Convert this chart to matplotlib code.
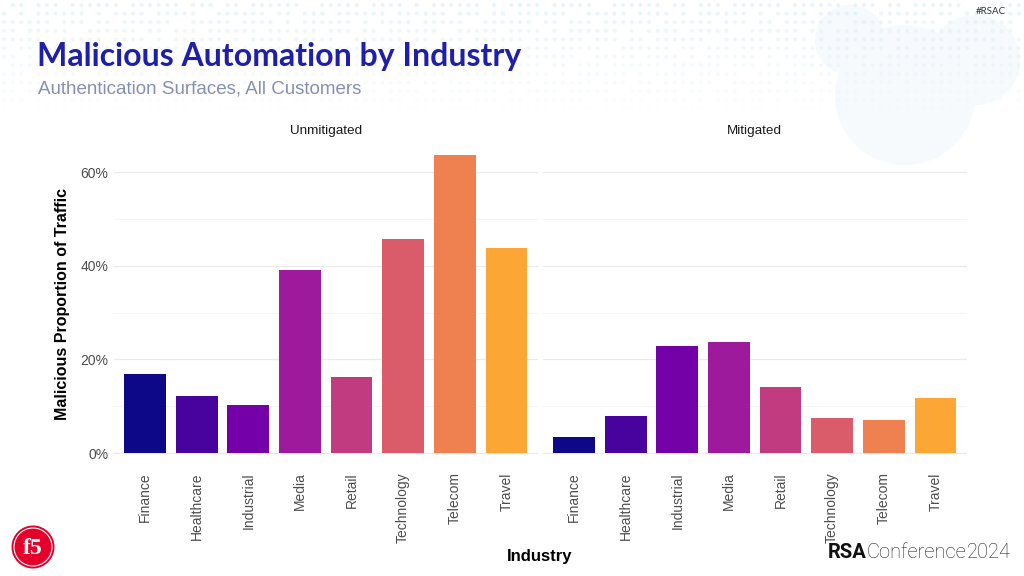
import matplotlib.pyplot as plt
import numpy as np
from matplotlib.patches import Circle
from matplotlib.ticker import FuncFormatter, FixedLocator

industries = ["Finance", "Healthcare", "Industrial", "Media", "Retail",
              "Technology", "Telecom", "Travel"]
unmitigated = [16.9, 12.2, 10.3, 39.2, 16.2, 45.8, 63.7, 43.9]
mitigated = [3.5, 8.0, 22.8, 23.7, 14.2, 7.5, 7.1, 11.8]
panels = ["Unmitigated", "Mitigated"]
colors = ["#0D0887", "#48039F", "#7401A8", "#9E1A9C", "#C03B80",
          "#DA5B69", "#EF8050", "#FCA636"]
major_ticks = [0, 20, 40, 60]
minor_ticks = [10, 30, 50]

W, H = 1024, 576
SANS = "Liberation Sans"
fig = plt.figure(figsize=(W / 100, H / 100), dpi=100)

# background layer in pixel coordinates
bg = fig.add_axes([0, 0, 1, 1], zorder=0)
bg.set_xlim(0, W)
bg.set_ylim(H, 0)
bg.axis("off")

# faint dotted banner like the slide template
for cx, cy, r in [(905, 95, 70), (975, 60, 45), (850, 40, 35)]:
    bg.add_patch(Circle((cx, cy), r, color="#F6FAFC", zorder=0, lw=0))
gx, gy = np.meshgrid(np.arange(4, W, 8.6), np.arange(5, 112, 8.6))
ii, jj = np.meshgrid(np.arange(gx.shape[1]), np.arange(gx.shape[0]))
keep = ((ii * 3 + jj * 5) % 7 != 0) & ((ii + jj * 2) % 11 != 3)
alpha = np.clip(1.0 - gy / 115.0, 0, 1) * 0.6
rgba = np.zeros((gx.size, 4))
rgba[:, :3] = (0.86, 0.93, 0.97)
rgba[:, 3] = alpha.ravel()
bg.scatter(gx.ravel()[keep.ravel()], gy.ravel()[keep.ravel()], s=9,
           c=rgba[keep.ravel()], linewidths=0, zorder=1)


def px_axes(x0, y0, x1, y1):
    return fig.add_axes([x0 / W, 1 - y1 / H, (x1 - x0) / W, (y1 - y0) / H], zorder=2)


axes = [px_axes(114, 140, 537.5, 468), px_axes(543, 140, 966.5, 468)]
x = np.arange(len(industries))
for ax, name, vals in zip(axes, panels, [unmitigated, mitigated]):
    ax.set_facecolor("none")
    ax.bar(x, vals, width=0.81, color=colors, zorder=3)
    ax.set_xlim(-0.6, len(industries) - 0.4)
    ax.set_ylim(-3.2, 66.9)
    ax.yaxis.set_major_locator(FixedLocator(major_ticks))
    ax.yaxis.set_minor_locator(FixedLocator(minor_ticks))
    ax.yaxis.set_major_formatter(FuncFormatter(lambda v, p: f"{v:.0f}%"))
    ax.grid(axis="y", which="major", color="#EAEAEA", lw=0.9, zorder=0)
    ax.grid(axis="y", which="minor", color="#F5F5F5", lw=0.7, zorder=0)
    ax.set_axisbelow(True)
    for s in ax.spines.values():
        s.set_visible(False)
    ax.set_xticks(x)
    ax.set_xticklabels(industries, rotation=90, fontsize=10, color="#4D4D4D",
                       family=SANS, va="top")
    ax.tick_params(axis="x", length=0, pad=3)
    ax.tick_params(axis="y", which="both", length=0, pad=4, labelsize=10,
                   labelcolor="#4D4D4D")
    for t in ax.get_yticklabels():
        t.set_family(SANS)
    ax.set_title(name, fontsize=9.7, family=SANS, color="#1A1A1A", pad=4)
axes[1].tick_params(axis="y", labelleft=False)

fig.text(63 / W, 1 - 304 / H, "Malicious Proportion of Traffic", rotation=90,
         ha="center", va="center", fontsize=11.5, fontweight="bold", family=SANS)
fig.text(540 / W, 1 - 557 / H, "Industry", ha="center", va="center",
         fontsize=12, fontweight="bold", family=SANS)

# slide header
fig.text(37 / W, 1 - 65.7 / H, "Malicious Automation by Industry", ha="left",
         va="baseline", fontsize=23, fontweight="bold", family="Lato", color="#1F1FA8")
fig.text(38 / W, 1 - 93.3 / H, "Authentication Surfaces, All Customers", ha="left",
         va="baseline", fontsize=13.5, family=SANS, color="#8790B0")
fig.text(1006 / W, 1 - 12 / H, "#RSAC", ha="right", va="center", fontsize=7,
         family="Lato", color="#333333")

# footer logos
bg.add_patch(Circle((33, 547), 21.5, color="#E4002B", zorder=3, lw=0))
bg.add_patch(Circle((33, 547), 19, fill=False, ec="white", lw=0.8, zorder=3))
bg.text(33, 548, "f5", ha="center", va="center", fontsize=17, fontweight="bold",
        family="Liberation Serif", color="white", zorder=4)
rsa = bg.text(828, 558, "RSA", ha="left", va="baseline", fontsize=14.5,
              fontweight="bold", family="Roboto", color="#111111")
conf = bg.annotate("Conference", xy=(1, 0), xycoords=rsa, ha="left", va="bottom",
                   fontsize=14.5, family="Roboto", fontweight="light", color="#222222")
bg.annotate("2024", xy=(1, 0), xycoords=conf, ha="left", va="bottom",
            fontsize=14.5, family="Roboto", fontweight="light", color="#222222")

fig.savefig("out.png", dpi=100)
